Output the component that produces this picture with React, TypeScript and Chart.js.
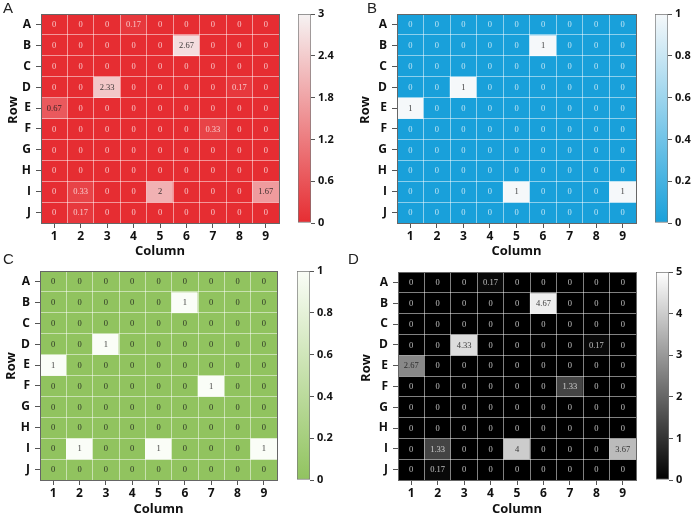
import React, { useEffect, useRef } from 'react';
import { Chart, registerables } from 'chart.js';

Chart.register(...registerables);

// ---------- data ----------
const columnLabels = ['1', '2', '3', '4', '5', '6', '7', '8', '9'];
const rowLabels = ['A', 'B', 'C', 'D', 'E', 'F', 'G', 'H', 'I', 'J'];

const valuesA: number[][] = [
  [0, 0, 0, 0.17, 0, 0, 0, 0, 0],
  [0, 0, 0, 0, 0, 2.67, 0, 0, 0],
  [0, 0, 0, 0, 0, 0, 0, 0, 0],
  [0, 0, 2.33, 0, 0, 0, 0, 0.17, 0],
  [0.67, 0, 0, 0, 0, 0, 0, 0, 0],
  [0, 0, 0, 0, 0, 0, 0.33, 0, 0],
  [0, 0, 0, 0, 0, 0, 0, 0, 0],
  [0, 0, 0, 0, 0, 0, 0, 0, 0],
  [0, 0.33, 0, 0, 2, 0, 0, 0, 1.67],
  [0, 0.17, 0, 0, 0, 0, 0, 0, 0],
];

const valuesB: number[][] = [
  [0, 0, 0, 0, 0, 0, 0, 0, 0],
  [0, 0, 0, 0, 0, 1, 0, 0, 0],
  [0, 0, 0, 0, 0, 0, 0, 0, 0],
  [0, 0, 1, 0, 0, 0, 0, 0, 0],
  [1, 0, 0, 0, 0, 0, 0, 0, 0],
  [0, 0, 0, 0, 0, 0, 0, 0, 0],
  [0, 0, 0, 0, 0, 0, 0, 0, 0],
  [0, 0, 0, 0, 0, 0, 0, 0, 0],
  [0, 0, 0, 0, 1, 0, 0, 0, 1],
  [0, 0, 0, 0, 0, 0, 0, 0, 0],
];

const valuesC: number[][] = [
  [0, 0, 0, 0, 0, 0, 0, 0, 0],
  [0, 0, 0, 0, 0, 1, 0, 0, 0],
  [0, 0, 0, 0, 0, 0, 0, 0, 0],
  [0, 0, 1, 0, 0, 0, 0, 0, 0],
  [1, 0, 0, 0, 0, 0, 0, 0, 0],
  [0, 0, 0, 0, 0, 0, 1, 0, 0],
  [0, 0, 0, 0, 0, 0, 0, 0, 0],
  [0, 0, 0, 0, 0, 0, 0, 0, 0],
  [0, 1, 0, 0, 1, 0, 0, 0, 1],
  [0, 0, 0, 0, 0, 0, 0, 0, 0],
];

const valuesD: number[][] = [
  [0, 0, 0, 0.17, 0, 0, 0, 0, 0],
  [0, 0, 0, 0, 0, 4.67, 0, 0, 0],
  [0, 0, 0, 0, 0, 0, 0, 0, 0],
  [0, 0, 4.33, 0, 0, 0, 0, 0.17, 0],
  [2.67, 0, 0, 0, 0, 0, 0, 0, 0],
  [0, 0, 0, 0, 0, 0, 1.33, 0, 0],
  [0, 0, 0, 0, 0, 0, 0, 0, 0],
  [0, 0, 0, 0, 0, 0, 0, 0, 0],
  [0, 1.33, 0, 0, 4, 0, 0, 0, 3.67],
  [0, 0.17, 0, 0, 0, 0, 0, 0, 0],
];

const colorbarTicksA = [0, 0.6, 1.2, 1.8, 2.4, 3];
const colorbarTicksB = [0, 0.2, 0.4, 0.6, 0.8, 1];
const colorbarTicksC = [0, 0.2, 0.4, 0.6, 0.8, 1];
const colorbarTicksD = [0, 1, 2, 3, 4, 5];

const panelLetters = ['A', 'B', 'C', 'D'];
const xTitle = 'Column';
const yTitle = 'Row';

// ---------- styling helpers ----------
type RGB = [number, number, number];
const SANS = '"Open Sans", "Noto Sans", "DejaVu Sans", sans-serif';
const SERIF = '"Liberation Serif", "DejaVu Serif", serif';
const GRID = 'rgba(255,255,255,0.5)';
const FRAME = '#666';

const mix = (a: RGB, b: RGB, t: number): RGB => [
  Math.round(a[0] + (b[0] - a[0]) * t),
  Math.round(a[1] + (b[1] - a[1]) * t),
  Math.round(a[2] + (b[2] - a[2]) * t),
];
const rgbStr = (c: RGB) => `rgb(${c[0]},${c[1]},${c[2]})`;
const lum = (c: RGB) => (0.299 * c[0] + 0.587 * c[1] + 0.114 * c[2]) / 255;

interface HeatProps {
  values: number[][];
  max: number;
  low: RGB;
  high: RGB;
  left: number;
  top: number;
  width: number;
  height: number;
  yAxisWidth: number;
  xAxisHeight: number;
  padTop: number;
}

function Heatmap(p: HeatProps) {
  const ref = useRef<HTMLCanvasElement>(null);
  useEffect(() => {
    const colorOf = (v: number): RGB => mix(p.low, p.high, Math.max(0, Math.min(1, v / p.max)));
    const datasets = rowLabels.map((r, ri) => ({
      label: r,
      data: columnLabels.map((c, ci) => ({ x: c, y: [ri, ri + 1], v: p.values[ri][ci] })),
      backgroundColor: (ctx: any) => rgbStr(colorOf(ctx.raw ? ctx.raw.v : 0)),
      borderWidth: 0,
      grouped: false,
      barPercentage: 1,
      categoryPercentage: 1,
      xAxisID: 'x',
      yAxisID: 'y',
    }));

    const cellText = {
      id: 'cellText',
      afterDatasetsDraw(chart: any) {
        const ctx = chart.ctx;
        ctx.save();
        ctx.font = `8.5px ${SERIF}`;
        ctx.textAlign = 'center';
        ctx.textBaseline = 'middle';
        chart.data.datasets.forEach((ds: any, di: number) => {
          const meta = chart.getDatasetMeta(di);
          meta.data.forEach((el: any, i: number) => {
            const raw = ds.data[i];
            const col = colorOf(raw.v);
            ctx.fillStyle = lum(col) > 0.5 ? 'rgba(25,25,25,0.85)' : 'rgba(255,255,255,0.72)';
            ctx.fillText(String(raw.v), el.x, (el.y + el.base) / 2 + 0.5);
          });
        });
        ctx.restore();
      },
    };

    const chart = new Chart(ref.current as HTMLCanvasElement, {
      type: 'bar',
      data: { labels: columnLabels, datasets: datasets as any },
      options: {
        responsive: false,
        animation: false,
        layout: { padding: { top: p.padTop, right: 1, left: 0, bottom: 0 } },
        plugins: { legend: { display: false }, tooltip: { enabled: false } },
        scales: {
          x: {
            type: 'category',
            position: 'bottom',
            offset: true,
            grid: { offset: false, drawOnChartArea: false, tickLength: 5, color: '#555', z: 1 },
            border: { display: true, color: FRAME, width: 1, z: 2 },
            ticks: { color: '#111', font: { family: SANS, size: 12, weight: 'bold' }, padding: 1, autoSkip: false, maxRotation: 0 },
            title: {
              display: true,
              text: xTitle,
              color: '#111',
              font: { family: SANS, size: 13, weight: 'bold', lineHeight: 1 },
              padding: 0,
            },
            afterFit: (s: any) => { s.height = p.xAxisHeight; },
          } as any,
          xGrid: {
            type: 'category',
            axis: 'x',
            position: 'top',
            offset: true,
            grid: {
              offset: true,
              drawOnChartArea: true,
              drawTicks: false,
              z: 1,
              color: (c: any) => (c.index === 0 || c.index === columnLabels.length ? 'rgba(0,0,0,0)' : GRID),
            },
            border: { display: true, color: FRAME, width: 1, z: 2 },
            ticks: { display: false },
            afterFit: (s: any) => { s.height = 0; },
          } as any,
          y: {
            type: 'linear',
            position: 'left',
            min: 0,
            max: rowLabels.length,
            reverse: true,
            afterBuildTicks: (s: any) => { s.ticks = rowLabels.map((_, i) => ({ value: i + 0.5 })); },
            ticks: {
              color: '#111',
              font: { family: SANS, size: 12, weight: 'bold' },
              padding: 5,
              autoSkip: false,
              callback: (_v: any, i: number) => rowLabels[i],
            },
            grid: { drawOnChartArea: false, tickLength: 5, color: '#555', z: 1 },
            border: { display: true, color: FRAME, width: 1, z: 2 },
            afterFit: (s: any) => { s.width = p.yAxisWidth; },
          } as any,
          yGrid: {
            type: 'linear',
            axis: 'y',
            position: 'right',
            min: 0,
            max: rowLabels.length,
            ticks: { display: false, stepSize: 1 },
            grid: {
              drawOnChartArea: true,
              drawTicks: false,
              z: 1,
              color: (c: any) => (c.index === 0 || c.index === rowLabels.length ? 'rgba(0,0,0,0)' : GRID),
            },
            border: { display: true, color: FRAME, width: 1, z: 2 },
            afterFit: (s: any) => { s.width = 0; },
          } as any,
        },
      },
      plugins: [cellText],
    });
    return () => chart.destroy();
  }, []);
  return (
    <canvas
      ref={ref}
      width={p.width}
      height={p.height}
      style={{ position: 'absolute', left: p.left, top: p.top, width: p.width, height: p.height }}
    />
  );
}

interface BarProps {
  ticks: number[];
  low: RGB;
  high: RGB;
  left: number;
  top: number;
  barWidth: number;
  axisWidth: number;
  height: number;
  padTop: number;
  padBottom: number;
}

function Colorbar(p: BarProps) {
  const ref = useRef<HTMLCanvasElement>(null);
  const width = 1 + p.barWidth + p.axisWidth;
  useEffect(() => {
    const lo = p.ticks[0];
    const hi = p.ticks[p.ticks.length - 1];
    const chart = new Chart(ref.current as HTMLCanvasElement, {
      type: 'bar',
      data: {
        labels: ['scale'],
        datasets: [
          {
            data: [[lo, hi]] as any,
            backgroundColor: (c: any) => {
              const a = c.chart.chartArea;
              if (!a) return rgbStr(p.low);
              const g = c.chart.ctx.createLinearGradient(0, a.bottom, 0, a.top);
              g.addColorStop(0, rgbStr(p.low));
              g.addColorStop(1, rgbStr(p.high));
              return g;
            },
            borderColor: '#777',
            borderWidth: 1,
            borderSkipped: false,
            barPercentage: 1,
            categoryPercentage: 1,
          } as any,
        ],
      },
      options: {
        responsive: false,
        animation: false,
        layout: { padding: { top: p.padTop, bottom: p.padBottom, left: 1, right: 0 } },
        plugins: { legend: { display: false }, tooltip: { enabled: false } },
        scales: {
          x: { display: false },
          y: {
            type: 'linear',
            position: 'right',
            min: lo,
            max: hi,
            afterBuildTicks: (s: any) => { s.ticks = p.ticks.map((v) => ({ value: v })); },
            ticks: {
              color: '#111',
              font: { family: SANS, size: 11, weight: 'bold' },
              padding: 3,
              autoSkip: false,
              callback: (v: any) => String(v),
            },
            grid: { drawOnChartArea: false, tickLength: 4, color: '#555' },
            border: { display: false },
            afterFit: (s: any) => { s.width = p.axisWidth; },
          } as any,
        },
      },
    });
    return () => chart.destroy();
  }, []);
  return (
    <canvas
      ref={ref}
      width={width}
      height={p.height}
      style={{ position: 'absolute', left: p.left, top: p.top, width, height: p.height }}
    />
  );
}

function PanelLetter({ text, left, top }: { text: string; left: number; top: number }) {
  return (
    <div
      style={{
        position: 'absolute', left, top, fontFamily: '"Liberation Sans", Arial, sans-serif',
        fontSize: 15, lineHeight: '16px', color: '#222',
      }}
    >
      {text}
    </div>
  );
}

function RowTitle({ cx, cy }: { cx: number; cy: number }) {
  const w = 40;
  const h = 16;
  return (
    <div
      style={{
        position: 'absolute', left: cx - w / 2, top: cy - h / 2, width: w, height: h,
        lineHeight: `${h}px`, textAlign: 'center', transform: 'rotate(-90deg)',
        fontFamily: SANS, fontWeight: 'bold', fontSize: 13, color: '#111',
      }}
    >
      {yTitle}
    </div>
  );
}

const RED_LOW: RGB = [230, 45, 50];
const RED_HIGH: RGB = [246, 243, 243];
const BLUE_LOW: RGB = [25, 160, 218];
const BLUE_HIGH: RGB = [245, 248, 250];
const GREEN_LOW: RGB = [145, 195, 95];
const GREEN_HIGH: RGB = [250, 253, 247];
const BLACK_LOW: RGB = [0, 0, 0];
const BLACK_HIGH: RGB = [255, 255, 255];

export default function App() {
  return (
    <div style={{ position: 'fixed', left: 0, top: 0, width: 694, height: 516, overflow: 'hidden', background: '#fff' }}>
      {/* Panel A */}
      <Heatmap values={valuesA} max={3} low={RED_LOW} high={RED_HIGH}
        left={0} top={0} width={280} height={258} yAxisWidth={41} xAxisHeight={35} padTop={14} />
      <Colorbar ticks={colorbarTicksA} low={RED_LOW} high={RED_HIGH}
        left={297} top={0} barWidth={13} axisWidth={32} height={258} padTop={14} padBottom={35} />
      {/* Panel B */}
      <Heatmap values={valuesB} max={1} low={BLUE_LOW} high={BLUE_HIGH}
        left={353} top={0} width={284} height={258} yAxisWidth={44} xAxisHeight={35} padTop={14} />
      <Colorbar ticks={colorbarTicksB} low={BLUE_LOW} high={BLUE_HIGH}
        left={654} top={0} barWidth={13} axisWidth={32} height={258} padTop={14} padBottom={35} />
      {/* Panel C */}
      <Heatmap values={valuesC} max={1} low={GREEN_LOW} high={GREEN_HIGH}
        left={0} top={258} width={278} height={258} yAxisWidth={40} xAxisHeight={36} padTop={13} />
      <Colorbar ticks={colorbarTicksC} low={GREEN_LOW} high={GREEN_HIGH}
        left={296} top={258} barWidth={13} axisWidth={32} height={258} padTop={13} padBottom={36} />
      {/* Panel D */}
      <Heatmap values={valuesD} max={5} low={BLACK_LOW} high={BLACK_HIGH}
        left={354} top={258} width={283} height={258} yAxisWidth={44} xAxisHeight={36} padTop={14} />
      <Colorbar ticks={colorbarTicksD} low={BLACK_LOW} high={BLACK_HIGH}
        left={655} top={258} barWidth={13} axisWidth={32} height={258} padTop={14} padBottom={36} />

      <PanelLetter text={panelLetters[0]} left={3} top={0} />
      <PanelLetter text={panelLetters[1]} left={367} top={0} />
      <PanelLetter text={panelLetters[2]} left={3} top={251} />
      <PanelLetter text={panelLetters[3]} left={348} top={251} />

      <RowTitle cx={12} cy={110} />
      <RowTitle cx={364} cy={110} />
      <RowTitle cx={10} cy={366} />
      <RowTitle cx={365} cy={368} />
    </div>
  );
}
